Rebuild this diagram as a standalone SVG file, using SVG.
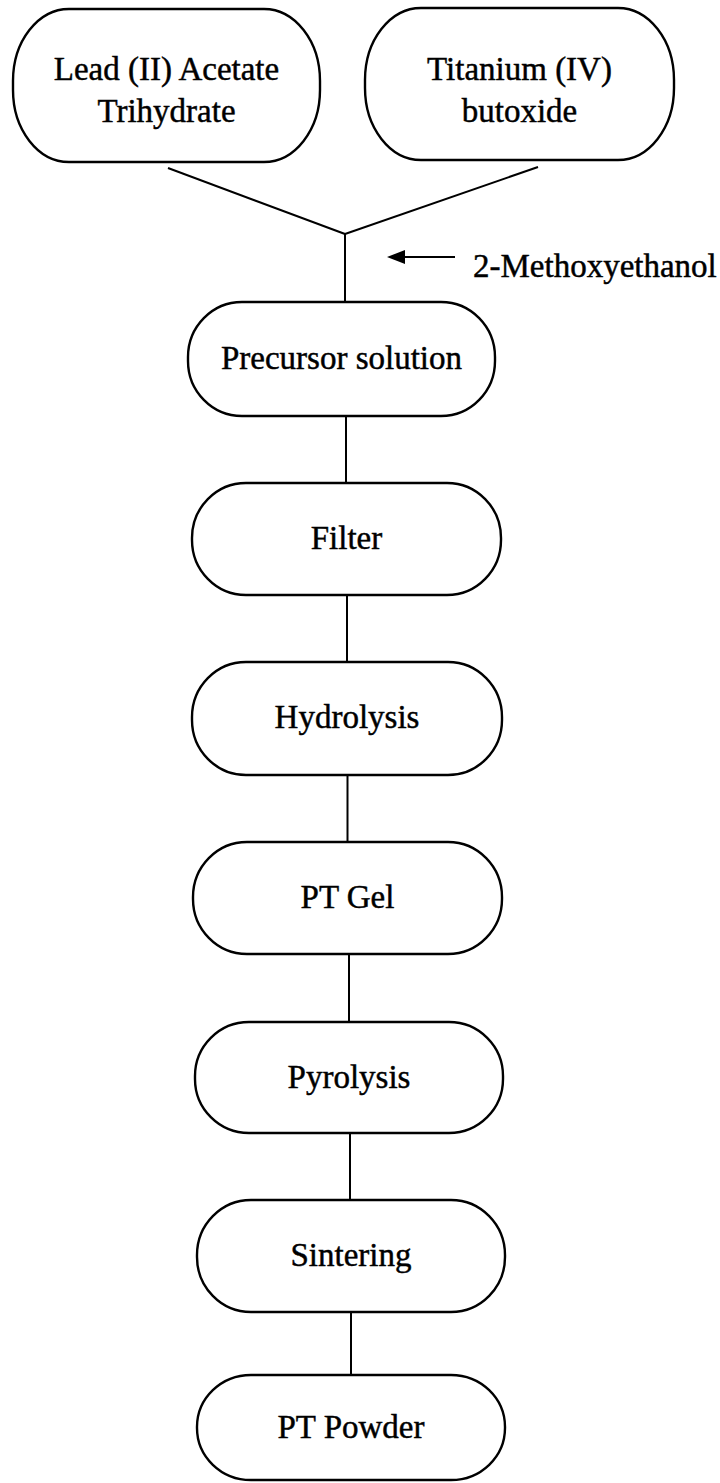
<svg xmlns="http://www.w3.org/2000/svg" width="720" height="1483" viewBox="0 0 720 1483">
  <style>
    .box { fill: #ffffff; stroke: #000000; stroke-width: 2.4; }
    .lbl { font-family: "Liberation Serif", "Times New Roman", serif; font-size: 33px; fill: #000000; stroke: #000000; stroke-width: 0.45; text-anchor: middle; }
    .conn { stroke: #000000; stroke-width: 2; fill: none; }
  </style>
  <rect width="720" height="1483" fill="#ffffff"/>

  <!-- connectors -->
  <g id="connectors">
    <line class="conn" x1="168" y1="168" x2="345" y2="234"/>
    <line class="conn" x1="538" y1="167" x2="345" y2="234"/>
    <line class="conn" x1="345" y1="234" x2="345" y2="302"/>
    <line class="conn" x1="346" y1="416" x2="346" y2="483"/>
    <line class="conn" x1="347" y1="595" x2="347" y2="662"/>
    <line class="conn" x1="347.5" y1="775" x2="347.5" y2="842"/>
    <line class="conn" x1="349" y1="954" x2="349" y2="1022"/>
    <line class="conn" x1="350" y1="1133" x2="350" y2="1200"/>
    <line class="conn" x1="351" y1="1312" x2="351" y2="1375"/>
    <!-- solvent feed arrow -->
    <line class="conn" x1="455" y1="257" x2="402" y2="257" stroke-width="3"/>
    <path d="M387,257 L405,250 L405,264 Z" fill="#000000"/>
  </g>

  <g id="solvent">
    <text class="lbl" x="473" y="277" style="text-anchor:start">2-Methoxyethanol</text>
  </g>

  <g id="lead-acetate">
    <rect class="box" x="13" y="9" width="307" height="153" rx="56" ry="72"/>
    <text class="lbl" x="166.5" y="80">Lead (II) Acetate</text>
    <text class="lbl" x="166.5" y="122">Trihydrate</text>
  </g>

  <g id="titanium-butoxide">
    <rect class="box" x="365" y="8" width="309" height="152" rx="56" ry="72"/>
    <text class="lbl" x="519.5" y="80">Titanium (IV)</text>
    <text class="lbl" x="519.5" y="122">butoxide</text>
  </g>

  <g id="precursor">
    <rect class="box" x="188" y="302" width="307" height="114" rx="54" ry="55"/>
    <text class="lbl" x="341.5" y="369">Precursor solution</text>
  </g>

  <g id="filter">
    <rect class="box" x="192" y="483" width="309" height="112" rx="54" ry="55"/>
    <text class="lbl" x="346.5" y="549">Filter</text>
  </g>

  <g id="hydrolysis">
    <rect class="box" x="192" y="662" width="310" height="113" rx="54" ry="55"/>
    <text class="lbl" x="347" y="728">Hydrolysis</text>
  </g>

  <g id="pt-gel">
    <rect class="box" x="193" y="842" width="309" height="112" rx="54" ry="55"/>
    <text class="lbl" x="347.5" y="908">PT Gel</text>
  </g>

  <g id="pyrolysis">
    <rect class="box" x="195" y="1022" width="308" height="111" rx="54" ry="54"/>
    <text class="lbl" x="349" y="1088">Pyrolysis</text>
  </g>

  <g id="sintering">
    <rect class="box" x="197" y="1200" width="308" height="112" rx="54" ry="55"/>
    <text class="lbl" x="351" y="1266">Sintering</text>
  </g>

  <g id="pt-powder">
    <rect class="box" x="197" y="1375" width="308" height="105" rx="54" ry="52"/>
    <text class="lbl" x="351" y="1438">PT Powder</text>
  </g>
</svg>
